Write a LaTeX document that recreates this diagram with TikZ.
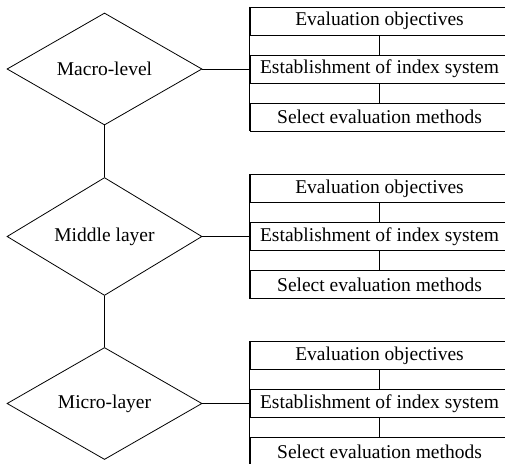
\documentclass[tikz,border=0pt]{standalone}
\usepackage{fontspec}
\setmainfont{Liberation Serif}
\usetikzlibrary{shapes.geometric}
\begin{document}
\begin{tikzpicture}[x=1pt,y=-1pt,
  txt/.style={font=\fontsize{19.5}{22}\selectfont},
  lvl/.style={draw,diamond,inner sep=0pt,minimum width=195pt,minimum height=112pt,line width=0.8pt,txt},
  rowbox/.style={draw,rectangle,inner sep=0pt,minimum width=259pt,minimum height=28pt,line width=0.8pt,txt},
  ln/.style={line width=0.8pt}]
\clip (0,0) rectangle (505,463);
% diamonds
\node[lvl] (m1) at (104.5,69) {Macro-level};
\node[lvl] (m2) at (104.5,236.5) {Middle layer};
\node[lvl] (m3) at (104.5,403.5) {Micro-layer};
% group 1
\node[rowbox] (a1) at (379.5,21) {Evaluation objectives};
\node[rowbox] (b1) at (379.5,69) {Establishment of index system};
\node[rowbox] (c1) at (379.5,117) {Select evaluation methods};
% group 2
\node[rowbox] (a2) at (379.5,188.5) {Evaluation objectives};
\node[rowbox] (b2) at (379.5,236.5) {Establishment of index system};
\node[rowbox] (c2) at (379.5,284.5) {Select evaluation methods};
% group 3
\node[rowbox] (a3) at (379.5,355.5) {Evaluation objectives};
\node[rowbox] (b3) at (379.5,403.5) {Establishment of index system};
\node[rowbox] (c3) at (379.5,451.5) {Select evaluation methods};
% connectors
\draw[ln] (m1.south) -- (m2.north);
\draw[ln] (m2.south) -- (m3.north);
\foreach \i in {1,2,3}{
  \draw[ln] (m\i.east) -- (b\i.west);
  \draw[ln] (a\i.south) -- (b\i.north);
  \draw[ln] (b\i.south) -- (c\i.north);
  \draw[ln] (a\i.north west) -- (c\i.south west);
}
\end{tikzpicture}
\end{document}
